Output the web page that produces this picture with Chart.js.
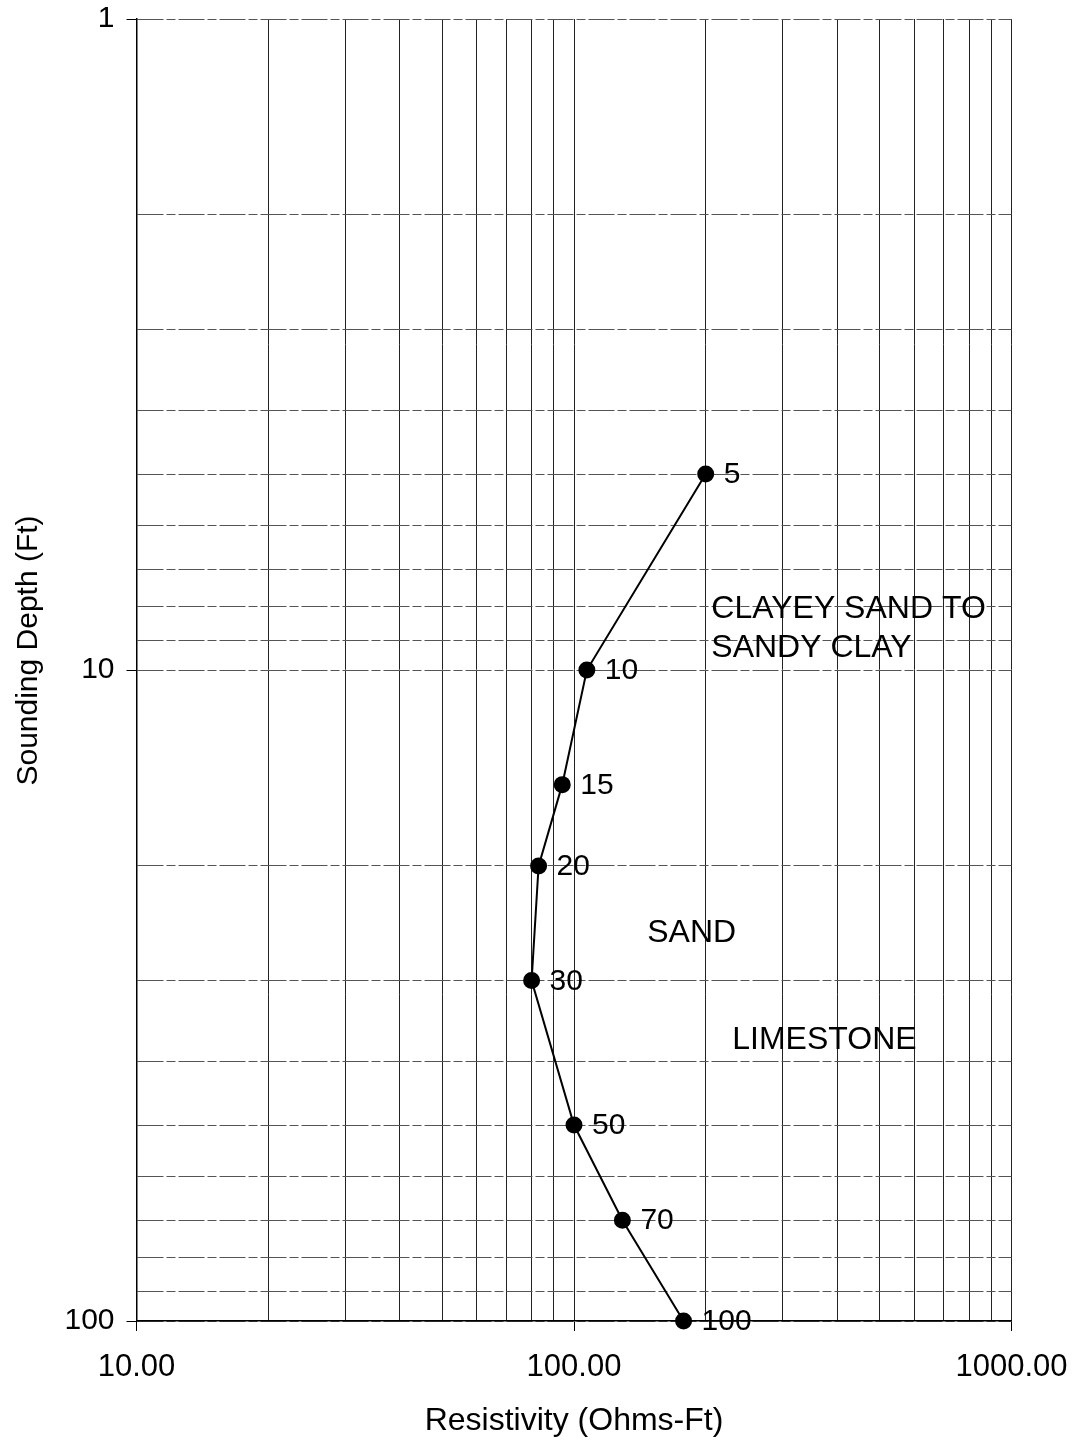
<!DOCTYPE html>
<html>
<head>
<meta charset="utf-8">
<script src="https://cdn.jsdelivr.net/npm/chart.js@4.4.1/dist/chart.umd.min.js"></script>
<style>
  html, body { margin: 0; padding: 0; background: #fff; }
  canvas { display: block; }
</style>
</head>
<body>
<canvas id="sounding" width="1078" height="1443"></canvas>
<script>
// Vertical electrical sounding: apparent resistivity vs. depth
const depths = [5, 10, 15, 20, 30, 50, 70, 100];            // Ft
const resistivity = [200, 107, 94, 83, 80, 100, 129, 178];  // Ohms-Ft

const xMajors = [10, 100, 1000];
const xTickLabels = ['10.00', '100.00', '1000.00'];
const yMajors = [1, 10, 100];
const yTickLabels = ['1', '10', '100'];

const xTitle = 'Resistivity (Ohms-Ft)';
const yTitle = 'Sounding Depth (Ft)';

// Soil layer notes, anchored in data units (left edge, vertical middle)
const layerNotes = [
  { lines: ['CLAYEY SAND TO', 'SANDY CLAY'], x: 206, y: 8.07 },
  { lines: ['SAND'], x: 147, y: 25.4 },
  { lines: ['LIMESTONE'], x: 230, y: 37.1 }
];

const FONT = '"Liberation Sans", Arial, sans-serif';

// every 1..9 multiple of each decade between lo and hi
function decadeTicks(lo, hi) {
  const out = [];
  for (let d = lo; d < hi; d *= 10) {
    for (let k = 1; k < 10; k++) out.push(d * k);
  }
  out.push(hi);
  return out;
}
function isMajor(v, majors) {
  return majors.some(m => Math.abs(m - v) < 1e-9 * m);
}
function labelFor(v, majors, labels) {
  const i = majors.findIndex(m => Math.abs(m - v) < 1e-9 * m);
  return i >= 0 ? labels[i] : '';
}

// depth written beside each sounding point
const pointLabels = {
  id: 'pointLabels',
  afterDatasetsDraw(chart) {
    const { ctx } = chart;
    const meta = chart.getDatasetMeta(0);
    ctx.save();
    ctx.font = '30px ' + FONT;
    ctx.fillStyle = '#000';
    ctx.textAlign = 'left';
    ctx.textBaseline = 'middle';
    meta.data.forEach((pt, i) => {
      ctx.fillText(String(depths[i]), pt.x + 18, pt.y + 1);
    });
    ctx.restore();
  }
};

// layer interpretation notes + vertical axis title
const layerText = {
  id: 'layerText',
  afterDatasetsDraw(chart) {
    const { ctx, scales, chartArea } = chart;
    ctx.save();
    ctx.font = '32px ' + FONT;
    ctx.fillStyle = '#000';
    ctx.textAlign = 'left';
    ctx.textBaseline = 'middle';
    layerNotes.forEach(n => {
      const px = scales.x.getPixelForValue(n.x);
      const py = scales.y.getPixelForValue(n.y);
      n.lines.forEach((t, j) => ctx.fillText(t, px, py + j * 39));
    });
    // y title, sitting a little above the middle of the plot
    ctx.font = '30px ' + FONT;
    ctx.textAlign = 'center';
    ctx.translate(29, chartArea.top + (chartArea.bottom - chartArea.top) * 0.485);
    ctx.rotate(-Math.PI / 2);
    ctx.fillText(yTitle, 0, 0);
    ctx.restore();
  }
};

new Chart(document.getElementById('sounding'), {
  type: 'scatter',
  data: {
    datasets: [{
      data: depths.map((d, i) => ({ x: resistivity[i], y: d })),
      showLine: true,
      borderColor: '#000',
      borderWidth: 2,
      pointRadius: 7.5,
      pointHoverRadius: 7.5,
      pointBackgroundColor: '#000',
      pointBorderColor: '#000',
      clip: false
    }]
  },
  options: {
    responsive: false,
    animation: false,
    events: [],
    layout: { padding: { left: 0, top: 19, right: 66.5, bottom: 0 } },
    plugins: {
      legend: { display: false },
      tooltip: { enabled: false }
    },
    scales: {
      x: {
        type: 'logarithmic',
        min: 10,
        max: 1000,
        afterFit(s) { s.height = 122; s.paddingLeft = 0; s.paddingRight = 0; },
        afterBuildTicks(s) {
          s.ticks = decadeTicks(10, 1000).map(v => ({ value: v, major: isMajor(v, xMajors) }));
        },
        ticks: {
          autoSkip: false,
          maxRotation: 0,
          padding: 18,
          color: '#000',
          font: { family: FONT, size: 31 },
          callback: v => labelFor(v, xMajors, xTickLabels)
        },
        grid: {
          color: '#222',
          lineWidth: 1,
          tickLength: 10,
          tickColor: c => (c.tick && isMajor(c.tick.value, xMajors)) ? '#000' : 'rgba(0,0,0,0)'
        },
        border: { color: '#000', width: 1.5 },
        title: {
          display: true,
          text: xTitle,
          color: '#000',
          font: { family: FONT, size: 32 },
          padding: { top: 0, bottom: 3 }
        }
      },
      y: {
        type: 'logarithmic',
        reverse: true,
        min: 1,
        max: 100,
        afterFit(s) { s.width = 136.5; s.paddingTop = 0; s.paddingBottom = 0; },
        afterBuildTicks(s) {
          s.ticks = decadeTicks(1, 100).map(v => ({ value: v, major: isMajor(v, yMajors) }));
        },
        ticks: {
          autoSkip: false,
          padding: 12,
          color: '#000',
          font: { family: FONT, size: 30 },
          callback: v => labelFor(v, yMajors, yTickLabels)
        },
        grid: {
          color: '#555',
          lineWidth: 1,
          tickLength: 10,
          tickColor: c => (c.tick && isMajor(c.tick.value, yMajors)) ? '#000' : 'rgba(0,0,0,0)'
        },
        border: { color: '#000', width: 1.5, dash: [26, 3, 9, 3] },
        title: { display: false }
      }
    }
  },
  plugins: [pointLabels, layerText]
});
</script>
</body>
</html>
